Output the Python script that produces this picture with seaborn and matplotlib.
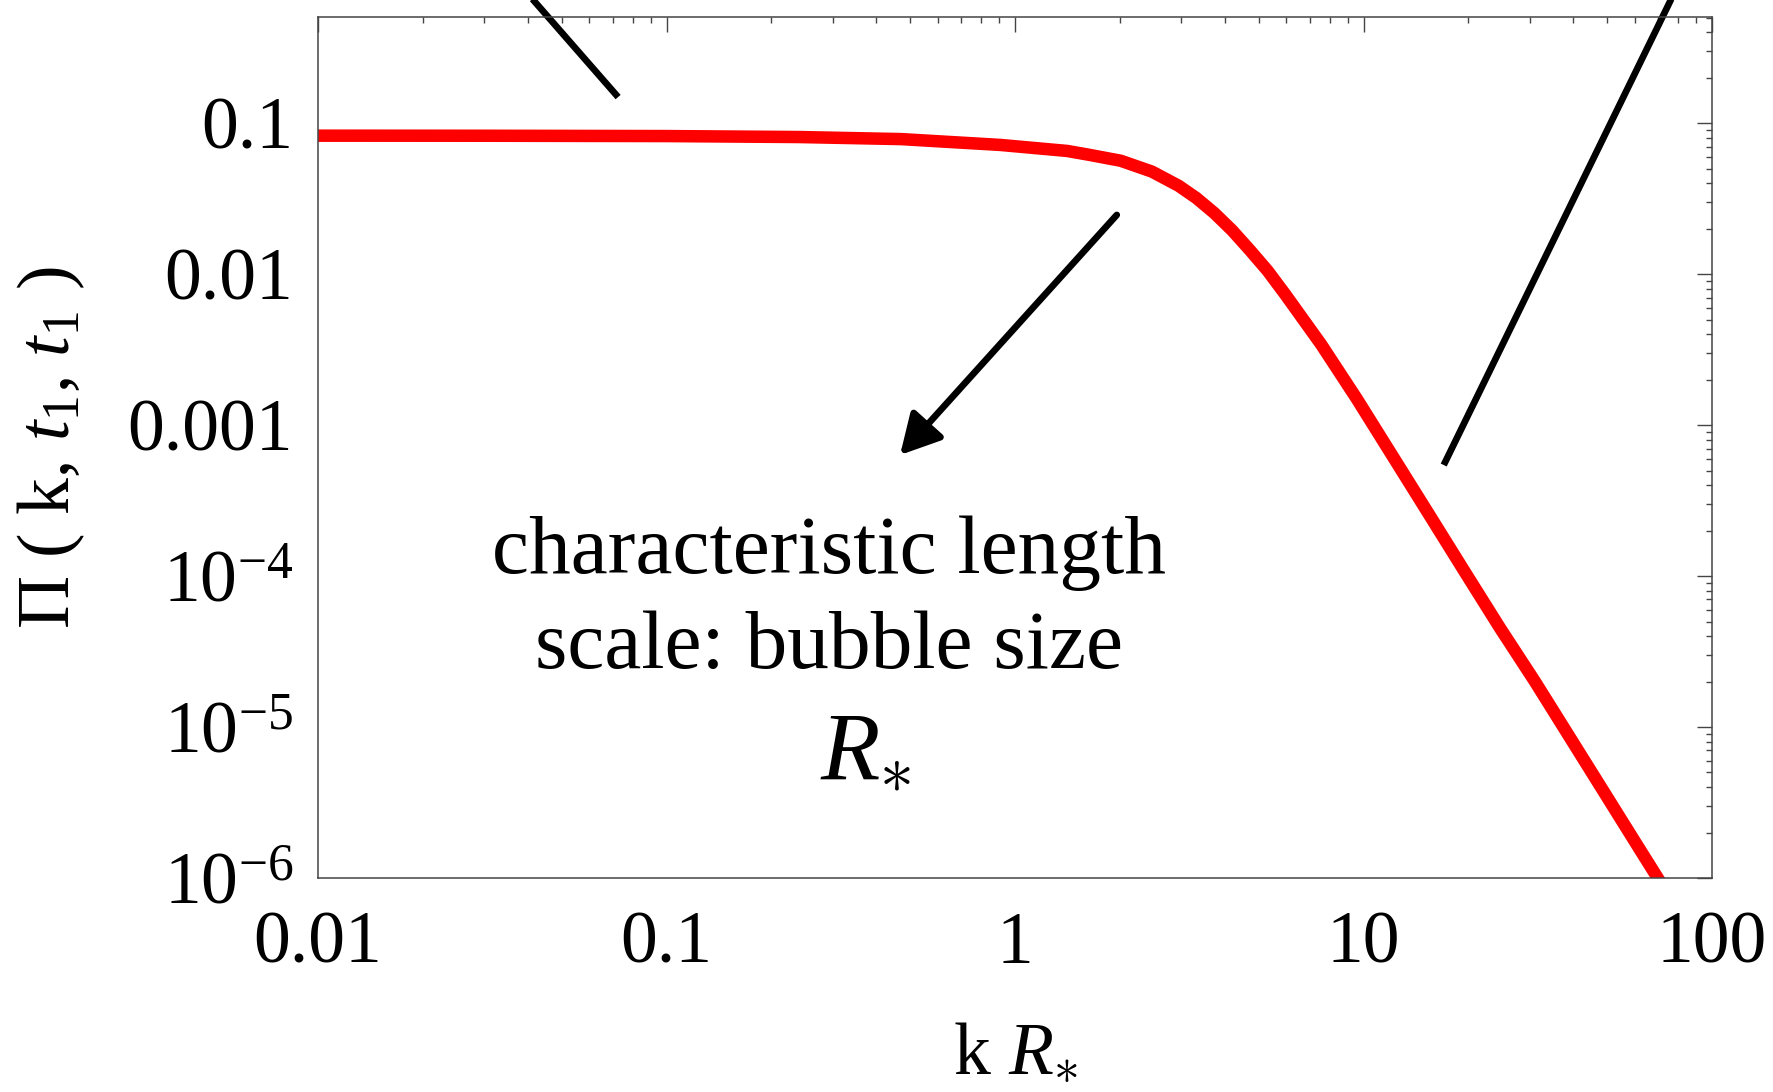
import matplotlib
matplotlib.use("Agg")
import matplotlib.pyplot as plt
import matplotlib.ticker as mticker
import seaborn as sns
import pandas as pd

# ---- data ----
k_values = [0.01, 0.03, 0.1, 0.24, 0.47, 0.907, 1.411, 1.635, 2.01, 2.47, 2.947,
            3.315, 3.73, 4.196, 4.72, 5.31, 5.974, 7.557, 9.568, 12.11, 15.33,
            19.40, 24.55, 31.07, 39.32, 49.77, 62.99, 72.98]
pi_values = [0.0827, 0.0826, 0.0822, 0.0810, 0.0785, 0.0718, 0.0655, 0.0617,
             0.0564, 0.0478, 0.0385, 0.0319, 0.0254, 0.0195, 0.01441, 0.0105,
             0.00729, 0.00342, 0.00149, 6.24e-4, 2.61e-4, 1.09e-4, 4.58e-5,
             1.99e-5, 8.34e-6, 3.49e-6, 1.46e-6, 8.5e-7]

x_ticks = [0.01, 0.1, 1, 10, 100]
x_tick_labels = ["0.01", "0.1", "1", "10", "100"]
y_ticks = [1e-6, 1e-5, 1e-4, 1e-3, 1e-2, 1e-1]
y_tick_labels = [r"$10^{-6}$", r"$10^{-5}$", r"$10^{-4}$", "0.001", "0.01", "0.1"]

# annotation guide lines (data coords)
guide1_k = [0.0369, 0.0726]
guide1_y = [0.890, 0.149]
guide2_k = [16.98, 81.2]
guide2_y = [5.44e-4, 0.890]
arrow_tail = (1.958, 0.02468)
arrow_tip = (0.4677, 6.34e-4)

annot_line1 = "characteristic length"
annot_line2 = "scale: bubble size"
annot_symbol = r"$R_{\ast}$"
x_label = r"k $R_{\ast}$"
y_label = r"Π ( k, $t_{1}$, $t_{1}$ )"

# ---- style ----
sns.set_style("white")
plt.rcParams["font.family"] = ["Liberation Serif", "DejaVu Serif"]
plt.rcParams["mathtext.fontset"] = "custom"
plt.rcParams["mathtext.rm"] = "Liberation Serif"
plt.rcParams["mathtext.it"] = "Liberation Serif:italic"
plt.rcParams["mathtext.bf"] = "Liberation Serif:bold"
plt.rcParams["text.color"] = "black"
plt.rcParams["axes.labelcolor"] = "black"
plt.rcParams["xtick.labelcolor"] = "black"
plt.rcParams["ytick.labelcolor"] = "black"

fig = plt.figure(figsize=(17.74, 10.92), dpi=100)
ax = fig.add_axes([0.1793, 0.196, 0.7858, 0.7885])

df = pd.DataFrame({"k": k_values, "pi": pi_values})
sns.lineplot(data=df, x="k", y="pi", ax=ax, color="#ff0000", lw=9,
             sort=False, estimator=None, solid_capstyle="butt",
             solid_joinstyle="round")

ax.set_xscale("log")
ax.set_yscale("log")
ax.set_xlim(0.01, 100)
ax.set_ylim(1e-6, 0.506)

ax.xaxis.set_major_locator(mticker.FixedLocator(x_ticks))
ax.xaxis.set_major_formatter(mticker.FixedFormatter(x_tick_labels))
ax.yaxis.set_major_locator(mticker.FixedLocator(y_ticks))
ax.yaxis.set_major_formatter(mticker.FixedFormatter(y_tick_labels))
ax.xaxis.set_minor_locator(mticker.LogLocator(base=10, subs=range(2, 10), numticks=20))
ax.yaxis.set_minor_locator(mticker.LogLocator(base=10, subs=range(2, 10), numticks=20))
ax.xaxis.set_minor_formatter(mticker.NullFormatter())
ax.yaxis.set_minor_formatter(mticker.NullFormatter())

spine_col = "#444444"
for s in ax.spines.values():
    s.set_color(spine_col)
    s.set_linewidth(1.1)
ax.tick_params(which="both", direction="in", top=True, right=True,
               color=spine_col, width=1.0, labelsize=53)
ax.tick_params(which="major", length=11)
ax.tick_params(which="minor", length=4.5)
ax.tick_params(axis="x", which="major", pad=24)
ax.tick_params(axis="y", which="major", pad=18)

ax.set_xlabel(x_label, fontsize=53)
ax.set_ylabel(y_label, fontsize=53)
ax.xaxis.set_label_coords(0.5, -0.167)
ax.yaxis.set_label_coords(-0.166, 0.5)

# guide lines and arrow
ax.plot(guide1_k, guide1_y, color="black", lw=4.8, clip_on=False, solid_capstyle="butt")
ax.plot(guide2_k, guide2_y, color="black", lw=4.8, clip_on=False, solid_capstyle="butt")
ax.annotate("", xy=arrow_tip, xytext=arrow_tail,
            arrowprops=dict(arrowstyle="-|>,head_length=1.2,head_width=0.65",
                            mutation_scale=20, lw=4.8, color="black",
                            shrinkA=0, shrinkB=0))

ax.text(0.3666, 0.3542, annot_line1, transform=ax.transAxes, ha="center",
        va="baseline", fontsize=60)
ax.text(0.3666, 0.2439, annot_line2, transform=ax.transAxes, ha="center",
        va="baseline", fontsize=60)
ax.text(0.393, 0.116, annot_symbol, transform=ax.transAxes, ha="center",
        va="baseline", fontsize=70)

fig.savefig("out.png", dpi=100)
